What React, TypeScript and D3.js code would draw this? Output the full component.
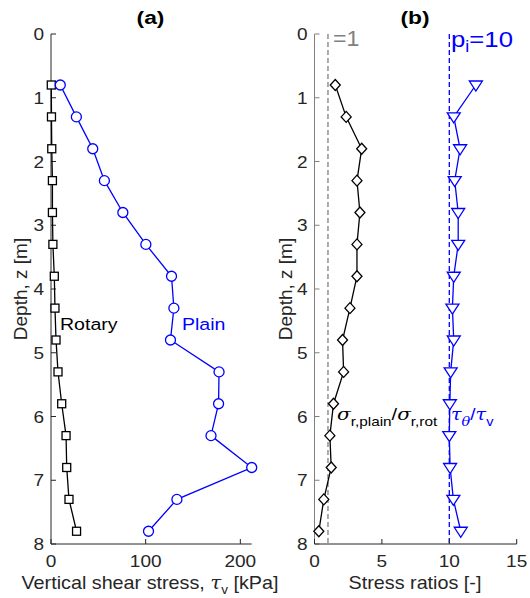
import React from "react"
import * as d3 from "d3"

// depths of the measurement points [m]
const depths = [0.8, 1.3, 1.8, 2.3, 2.8, 3.3, 3.8, 4.3, 4.8, 5.3, 5.8, 6.3, 6.8, 7.3, 7.8]
// vertical shear stress [kPa]
const rotary = [0.3, 0.5, 0.8, 1.5, 1.5, 2, 3.5, 4.2, 5.3, 7.4, 11.3, 15.9, 16.6, 19, 27]
const plain = [9.8, 26.8, 44.1, 56.4, 75.9, 100.2, 127.3, 129.8, 126.2, 177.5, 177, 169, 212, 133, 103]
// stress ratios [-]
const sigmaRatio = [1.54, 2.35, 3.5, 3.15, 3.37, 3.15, 3.15, 2.63, 2.08, 2.16, 1.41, 1.14, 1.24, 0.69, 0.32]
const tauRatio = [11.97, 10.33, 10.8, 10.4, 10.66, 10.66, 10.33, 10.23, 10.33, 10.1, 10.04, 10.0, 10.06, 10.3, 10.85]

const depthTicks = [0, 1, 2, 3, 4, 5, 6, 7, 8]
const stressTicks = [0, 100, 200]
const ratioTicks = [0, 5, 10, 15]

const FONT = "'Liberation Sans', Arial, Helvetica, sans-serif"
const SERIF = "'DejaVu Serif', serif"
const DARK = "#262626"
const BLUE = "#0000ff"
const GRAY = "#808080"

const top = 34
const bottom = 544

// text stretched horizontally around its anchor point
function T({ x, y, sx = 1, children, ...rest }: any) {
  return (
    <text transform={`translate(${x},${y}) scale(${sx},1)`} {...rest}>
      {children}
    </text>
  )
}

export default function App() {
  const y = d3.scaleLinear().domain([0, 8]).range([top, bottom])
  const xa = d3.scaleLinear().domain([0, 212]).range([51, 251.7])
  const xb = d3.scaleLinear().domain([0, 15]).range([314.5, 516.7])

  const line = (vals: number[], x: d3.ScaleLinear<number, number>) =>
    d3
      .line<number>()
      .x((v) => x(v))
      .y((_, i) => y(depths[i]))(vals) || ""

  const yAxis = (x0: number, lineColor: string) => (
    <g>
      <line x1={x0} x2={x0} y1={top} y2={bottom} stroke={lineColor} strokeWidth={1} />
      {depthTicks.map((t) => (
        <g key={t}>
          <line x1={x0} x2={x0 + 5} y1={y(t)} y2={y(t)} stroke={lineColor} />
          <T x={x0 - 7} y={y(t)} sx={1.12} dy="0.36em" textAnchor="end" fontSize={17} fill={DARK}>
            {t}
          </T>
        </g>
      ))}
    </g>
  )

  const xAxis = (x: d3.ScaleLinear<number, number>, ticks: number[]) => (
    <g>
      <line x1={x.range()[0]} x2={x.range()[1]} y1={bottom} y2={bottom} stroke={DARK} />
      {ticks.map((t) => (
        <g key={t}>
          <line x1={x(t)} x2={x(t)} y1={bottom} y2={bottom - 5} stroke={DARK} />
          <T x={x(t)} y={567} sx={1.12} textAnchor="middle" fontSize={17} fill={DARK}>
            {t}
          </T>
        </g>
      ))}
    </g>
  )

  const diamond = (cx: number, cy: number) =>
    `M${cx},${cy - 5.5}L${cx + 5},${cy}L${cx},${cy + 5.5}L${cx - 5},${cy}Z`
  const triDown = (cx: number, cy: number) =>
    `M${cx - 6.5},${cy - 4}L${cx + 6.5},${cy - 4}L${cx},${cy + 6}Z`

  return (
    <svg width={530} height={598} style={{ position: "absolute", left: 0, top: 0, fontFamily: FONT }}>
      <rect width={530} height={598} fill="#fff" />

      {/* ---------- panel (a) ---------- */}
      <T x={150.5} y={24} sx={1.2} textAnchor="middle" fontSize={19} fontWeight="bold" fill="#000">
        (a)
      </T>
      {yAxis(xa.range()[0], DARK)}
      {xAxis(xa, stressTicks)}
      <text transform={`translate(27,${(top + bottom) / 2}) rotate(-90)`} textAnchor="middle" fontSize={19} fill={DARK}>
        Depth, z [m]
      </text>
      <T x={150} y={589} sx={1.04} textAnchor="middle" fontSize={19} fill={DARK}>
        Vertical shear stress,{" "}
        <tspan fontFamily={SERIF} fontStyle="italic">τ</tspan>
        <tspan fontSize={13} dy={5}>v</tspan>
        <tspan dy={-5}> [kPa]</tspan>
      </T>

      <path d={line(rotary, xa)} fill="none" stroke="#000" strokeWidth={1.3} />
      {rotary.map((v, i) => (
        <rect key={i} x={xa(v) - 4} y={y(depths[i]) - 4} width={8} height={8} fill="#fff" stroke="#000" strokeWidth={1.3} />
      ))}
      <path d={line(plain, xa)} fill="none" stroke={BLUE} strokeWidth={1.3} />
      {plain.map((v, i) => (
        <circle key={i} cx={xa(v)} cy={y(depths[i])} r={5} fill="#fff" stroke={BLUE} strokeWidth={1.3} />
      ))}
      <T x={60} y={330} sx={1.15} fontSize={17} fill="#000">Rotary</T>
      <T x={182} y={330} sx={1.15} fontSize={17} fill={BLUE}>Plain</T>

      {/* ---------- panel (b) ---------- */}
      <T x={415} y={24} sx={1.2} textAnchor="middle" fontSize={19} fontWeight="bold" fill="#000">
        (b)
      </T>
      <line x1={xb(1)} x2={xb(1)} y1={top} y2={bottom} stroke={GRAY} strokeDasharray="5,3" strokeWidth={1.3} />
      <line x1={xb(10)} x2={xb(10)} y1={top} y2={bottom} stroke={BLUE} strokeDasharray="5,3" strokeWidth={1.3} />
      {yAxis(xb.range()[0], GRAY)}
      {xAxis(xb, ratioTicks)}
      <text transform={`translate(292,${(top + bottom) / 2}) rotate(-90)`} textAnchor="middle" fontSize={19} fill={DARK}>
        Depth, z [m]
      </text>
      <T x={415} y={589} sx={1.04} textAnchor="middle" fontSize={19} fill={DARK}>
        Stress ratios [-]
      </T>

      <T x={333} y={46} sx={1.05} fontSize={22} fill={GRAY}>=1</T>
      <T x={451} y={47} sx={1.12} fontSize={23} fill={BLUE}>
        p<tspan fontSize={16} dy={5}>i</tspan>
        <tspan dy={-5}>=10</tspan>
      </T>

      <path d={line(sigmaRatio, xb)} fill="none" stroke="#000" strokeWidth={1.3} />
      {sigmaRatio.map((v, i) => (
        <path key={i} d={diamond(xb(v), y(depths[i]))} fill="#fff" stroke="#000" strokeWidth={1.3} />
      ))}
      <path d={line(tauRatio, xb)} fill="none" stroke={BLUE} strokeWidth={1.3} />
      {tauRatio.map((v, i) => (
        <path key={i} d={triDown(xb(v), y(depths[i]))} fill="#fff" stroke={BLUE} strokeWidth={1.3} />
      ))}

      <T x={337} y={420} sx={1.18} fontSize={17} fill="#000">
        <tspan fontFamily={SERIF} fontStyle="italic">σ</tspan>
        <tspan fontSize={13} dy={6}>r,plain</tspan>
        <tspan dy={-6}>/</tspan>
        <tspan fontFamily={SERIF} fontStyle="italic">σ</tspan>
        <tspan fontSize={13} dy={6}>r,rot</tspan>
      </T>
      <T x={451} y={420} sx={1.12} fontSize={17} fill={BLUE}>
        <tspan fontFamily={SERIF} fontStyle="italic">τ</tspan>
        <tspan fontFamily={SERIF} fontStyle="italic" fontSize={13} dy={6}>θ</tspan>
        <tspan dy={-6}>/</tspan>
        <tspan fontFamily={SERIF} fontStyle="italic">τ</tspan>
        <tspan fontSize={13} dy={6}>v</tspan>
      </T>
    </svg>
  )
}
